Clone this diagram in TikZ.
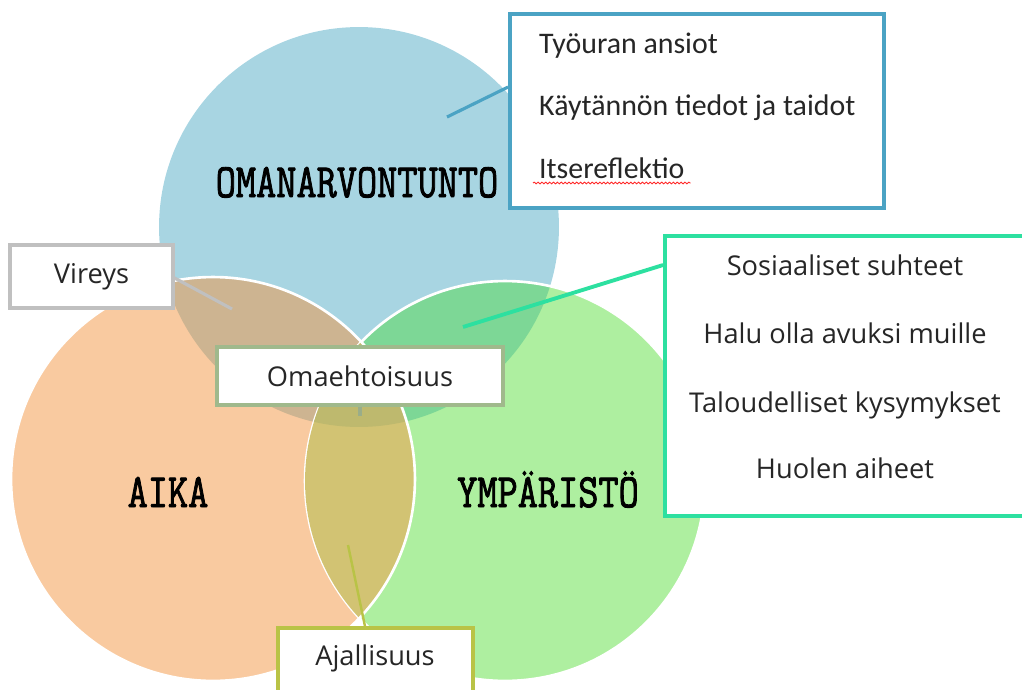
\documentclass[tikz,border=0pt]{standalone}
\usepackage{fontspec}
\setmainfont{Open Sans}
\newfontfamily\calfont{Carlito}
\newfontfamily\typefont[FakeBold=2]{Latin Modern Mono}
\usetikzlibrary{positioning,decorations.pathmorphing}
\definecolor{skyblue}{RGB}{168,213,226}
\definecolor{peach}{RGB}{249,202,160}
\definecolor{lightgreen}{RGB}{174,239,160}
\definecolor{tanmix}{RGB}{205,180,145}
\definecolor{seamix}{RGB}{125,215,150}
\definecolor{olivemix}{RGB}{210,195,115}
\definecolor{darkmix}{RGB}{190,185,110}
\definecolor{boxblue}{RGB}{75,163,196}
\definecolor{boxmint}{RGB}{45,224,160}
\definecolor{boxgrey}{RGB}{192,192,192}
\definecolor{boxsage}{RGB}{160,185,140}
\definecolor{boxolive}{RGB}{185,195,70}
\tikzset{
  infobox/.style={draw, rectangle, fill=white, line width=2.2pt, inner sep=0pt},
  itemtext/.style={font=\fontsize{15.5}{18}\selectfont, text=black!85},
  bigtitle/.style={font=\typefont\fontsize{22.3}{25}\selectfont, anchor=base},
  pinline/.style={line width=1.8pt}
}

\begin{document}
\begin{tikzpicture}[x=0.02cm, y=-0.02cm]
    \useasboundingbox (0,0) rectangle (1022,690);
    \clip (0,0) rectangle (1022,690);

    % Circle centres
    \coordinate (cB) at (359,227);
    \coordinate (cO) at (213,479);
    \coordinate (cG) at (505,481);

    % Circles
    \fill[skyblue] (cB) circle[radius=4cm];
    \fill[lightgreen] (cG) circle[radius=4cm];
    \fill[peach] (cO) circle[radius=4.04cm];
    \begin{scope}
        \clip (cB) circle[radius=4cm];
        \fill[tanmix] (cO) circle[radius=4.04cm];
        \fill[seamix] (cG) circle[radius=4cm];
    \end{scope}
    \draw[white, line width=1.5pt] (cG) circle[radius=4cm];
    \begin{scope}
        \clip (cO) circle[radius=4.04cm];
        \fill[olivemix] (cG) circle[radius=4cm];
        \clip (cB) circle[radius=4cm];
        \fill[darkmix] (cG) circle[radius=4cm];
    \end{scope}
    \draw[white, line width=1.5pt] (cO) circle[radius=4.04cm];

    % Titles
    \node[bigtitle] (tOma) at (357,197) {\scalebox{1}[1.22]{OMANARVONTUNTO}};
    \node[bigtitle] (tAika) at (168,507) {\scalebox{1}[1.22]{AIKA}};
    \node[bigtitle] (tYmp) at (548,507) {\scalebox{1}[1.22]{YMPÄRISTÖ}};

    % Boxes
    \node[infobox, draw=boxblue, minimum width=7.48cm, minimum height=3.88cm] (oBox) at (697,111) {};
    \node[itemtext, font=\calfont\fontsize{17}{20}\selectfont, anchor=base west] (oItem1) at (533,53) {Työuran ansiot};
    \node[itemtext, font=\calfont\fontsize{17}{20}\selectfont, anchor=base west] (oItem2) at (533,115) {Käytännön tiedot ja taidot};
    \node[itemtext, font=\calfont\fontsize{17}{20}\selectfont, anchor=base west] (oItem3) at (533,178) {Itsereflektio};
    \draw[red!85, line width=0.5pt, decorate, decoration={snake, amplitude=0.5pt, segment length=2.2pt}]
        ([yshift=-0.1cm]oItem3.base west) -- ([yshift=-0.1cm]oItem3.base east);

    \node[infobox, draw=boxmint, minimum width=7.9cm, minimum height=5.6cm] (eBox) at (862.5,376) {};
    \foreach \y/\txt [count=\i] in {275/Sosiaaliset suhteet, 343/Halu olla avuksi muille,
                                    412/Taloudelliset kysymykset, 478/Huolen aiheet}
        \node[itemtext, anchor=base] (eItem\i) at (845,\y) {\txt};

    \node[infobox, itemtext, draw=boxgrey, line width=1.8pt, minimum width=3.26cm, minimum height=1.26cm] (vBox) at (91.5,276.5) {Vireys};
    \node[infobox, itemtext, draw=boxsage, line width=1.8pt, minimum width=5.72cm, minimum height=1.16cm] (mBox) at (360,376) {Omaehtoisuus};
    \node[infobox, draw=boxolive, line width=2pt, minimum width=3.9cm, minimum height=1.84cm] (aBox) at (375.5,674) {};
    \node[itemtext, anchor=base] (aLabel) at (375,665) {Ajallisuus};

    % Connectors
    \coordinate (oPin) at (447,117);
    \coordinate (ePin) at (463,327);
    \coordinate (vPin) at (232,309);
    \coordinate (mPin) at (360,416);
    \coordinate (aPin) at (348,545);
    \draw[pinline, boxblue] ([yshift=0.48cm]oBox.west) -- (oPin);
    \draw[pinline, boxmint, line width=2.2pt] ([yshift=2.22cm]eBox.west) -- (ePin);
    \draw[pinline, boxgrey] ([yshift=-0.03cm]vBox.east) -- (vPin);
    \draw[pinline, boxsage!80!gray] (mBox.south) -- (mPin);
    \draw[pinline, boxolive, line width=1.4pt] ([xshift=-0.21cm]aBox.north) -- (aPin);
\end{tikzpicture}
\end{document}
